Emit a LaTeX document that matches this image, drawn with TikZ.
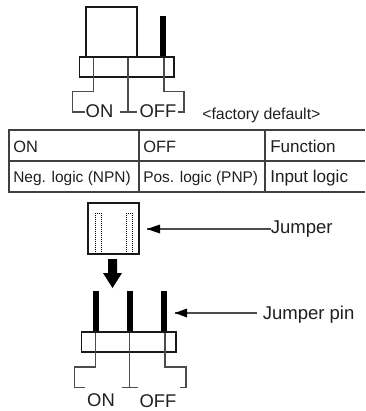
\documentclass[tikz,border=0pt]{standalone}
\usepackage{fontspec}
\setmainfont{Liberation Sans}
\definecolor{ln}{gray}{0.3}
\definecolor{tx}{gray}{0.12}
\tikzset{
  x=0.75pt,y=-0.75pt,
  boxline/.style={draw=black!90,line width=0.8pt},
  tableline/.style={draw=black!75,line width=0.9pt},
  lead/.style={draw=ln,line width=0.8pt},
  pin/.style={fill=black,draw=none},
  celltext/.style={anchor=base west,inner sep=0pt,text=tx,font=\fontsize{11.6pt}{14pt}\selectfont},
  cellhead/.style={anchor=base west,inner sep=0pt,text=tx,font=\fontsize{12.3pt}{15pt}\selectfont},
  cellwide/.style={anchor=base west,inner sep=0pt,text=tx,font=\fontsize{12.8pt}{15pt}\selectfont},
  bigtext/.style={anchor=base,inner sep=0pt,text=tx,font=\fontsize{13.8pt}{16pt}\selectfont},
  labeltext/.style={anchor=base west,inner sep=0pt,text=tx,font=\fontsize{13.9pt}{16pt}\selectfont},
  pointer/.style={draw=ln,line width=0.8pt},
  pointerhead/.style={fill=black,draw=none},
  dots/.style={draw=black,line width=0.5pt,densely dotted},
}
\begin{document}
\begin{tikzpicture}
\useasboundingbox (0,0) rectangle (365,411);
% top switch
\draw[boxline] (86,7) rectangle (137,57);
\fill[pin] (160,16) rectangle (166,57);
\draw[boxline] (79.5,57) rectangle (174,77);
\node[bigtext] (on1) at (99.5,117) {ON};
\node[bigtext] (off1) at (158,117) {OFF};
\draw[lead] (93.5,58) -- (93.5,91.5) -- (72.5,91.5) -- (72.5,112) -- (85,112);
\draw[lead] (128,58) -- (128,112);
\draw[lead] (120,112) -- (137,112);
\draw[lead] (164,58) -- (164,91.5) -- (184,91.5) -- (184,112) -- (178,112);
\node[anchor=base west,inner sep=0pt,text=tx,font=\fontsize{11.9pt}{14pt}\selectfont] (fd) at (202,119) {<factory default>};
% table
\draw[tableline] (365,130) -- (9,130) -- (9,192) -- (365,192);
\draw[tableline] (9,161) -- (365,161);
\draw[tableline] (139,130) -- (139,192);
\draw[tableline] (265,130) -- (265,192);
\node[cellhead] (a1) at (13,152) {ON};
\node[cellhead] (b1) at (143,152) {OFF};
\node[cellwide] (c1) at (270,152) {Function};
\node[celltext] (a2) at (13,182.5) {Neg. logic (NPN)};
\node[celltext] (b2) at (143,182.5) {Pos. logic (PNP)};
\node[cellwide] (c2) at (270,182.5) {Input logic};
% jumper
\draw[boxline] (88,203) rectangle (139,254);
\draw[dots] (95.5,254) -- (95.5,213) -- (101,213) -- (101,254);
\draw[dots] (126.5,254) -- (126.5,213) -- (132,213) -- (132,254);
\fill[pin] (108,259) -- (117,259) -- (117,273) -- (122,273) -- (112.5,288) -- (103,273) -- (108,273) -- cycle;
% lower switch
\fill[pin] (93,291) rectangle (99,332);
\fill[pin] (127,291) rectangle (133,332);
\fill[pin] (161,291) rectangle (167,332);
\draw[boxline] (81.5,332) rectangle (176,352);
\draw[lead] (95.5,333) -- (95.5,367) -- (74.5,367) -- (74.5,387.5) -- (85,387.5);
\draw[lead] (129.5,333) -- (129.5,387.5);
\draw[lead] (121.5,387.5) -- (138,387.5);
\draw[lead] (165,333) -- (165,367) -- (186,367) -- (186,387.5) -- (180,387.5);
\node[bigtext] (on2) at (101,406.7) {ON};
\node[bigtext] (off2) at (158,407.7) {OFF};
% pointers
\node[labeltext] (jt) at (270.5,233) {Jumper};
\node[labeltext] (pt) at (262.5,319) {Jumper pin};
\coordinate (jtip) at (147,229);
\coordinate (ptip) at (175,313);
\draw[pointer] (jtip) -- (jtip -| jt.west);
\draw[pointer] (ptip) -- (257,313);
\fill[pointerhead] (147,229) -- (160,224.5) -- (160,233.5) -- cycle;
\fill[pointerhead] (175,313) -- (187,308.5) -- (187,317.5) -- cycle;
\end{tikzpicture}
\end{document}
